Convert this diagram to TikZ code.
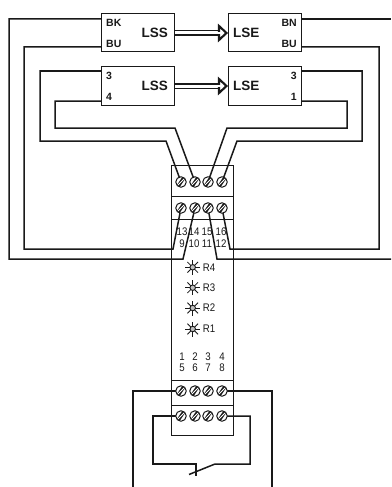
\documentclass[tikz,border=0pt]{standalone}
\usepackage{fontspec}
\setmainfont{Liberation Sans}
\newfontfamily\narrowfont[FakeStretch=0.88]{Liberation Sans}
\usetikzlibrary{calc}
\definecolor{ink}{gray}{0.1}
\definecolor{led}{gray}{0.75}
\begin{document}
\begin{tikzpicture}[x=1pt,y=-1pt,
  wire/.style={draw=ink,line width=1.5pt,line join=miter},
  thin wire/.style={draw=ink,line width=1.2pt},
  device/.style={draw=ink,line width=1pt,fill=white},
  housing/.style={draw=ink,line width=0.8pt},
  tag/.style={font=\bfseries\fontsize{10.5}{11}\selectfont,text=ink,inner sep=0pt},
  kind/.style={font=\bfseries\fontsize{13.5}{14}\selectfont,text=ink,inner sep=0pt},
  num/.style={font=\narrowfont\fontsize{11}{12}\selectfont,text=ink,inner sep=0pt},
  screwd/.style={circle,draw=ink,line width=1pt,fill=white,minimum size=10.5pt,inner sep=0pt,
    path picture={
      \draw[ink,line width=3.4pt]
        ($(path picture bounding box.south west)+(1pt,-1pt)$) -- ($(path picture bounding box.north east)+(-1pt,1pt)$);
      \draw[white,line width=0.9pt]
        ($(path picture bounding box.south west)+(0pt,0pt)$) -- ($(path picture bounding box.north east)+(0pt,0pt)$);}},
  ledmark/.style={circle,draw=ink,line width=0.9pt,fill=led,minimum size=5.5pt,inner sep=0pt},
]
\useasboundingbox (0,0) rectangle (391,487);
\fill[white] (0,0) rectangle (391,487);

% devices
\node[device,minimum width=73pt,minimum height=38pt,inner sep=0pt] (lssA) at (137.5,33) {};
\node[device,minimum width=73pt,minimum height=38pt,inner sep=0pt] (lssB) at (137.5,86) {};
\node[device,minimum width=73pt,minimum height=38pt,inner sep=0pt] (lseA) at (264.5,33) {};
\node[device,minimum width=73pt,minimum height=38pt,inner sep=0pt] (lseB) at (264.5,86) {};

% terminals
\foreach \n/\x in {1/181,2/195,3/208,4/222}{
  \coordinate (a\n) at (\x,182);
  \coordinate (b\n) at (\x,208);
  \coordinate (c\n) at (\x,391);
  \coordinate (d\n) at (\x,416);
}

% free ends
\coordinate (fl) at (133,487);
\coordinate (fr) at (272,487);
\coordinate (brk) at (391,19);
\coordinate (brk2) at (391,259);

% wires
\draw[wire] (101,19) -- (9,19) -- (9,259) -- (183,259) -- (b2);
\draw[wire] (101,47) -- (24,47) -- (24,249) -- (173,249) -- (b1);
\draw[wire] (101,71) -- (40,71) -- (40,141) -- (166,141) -- (a1);
\draw[wire] (101,101) -- (55,101) -- (55,128) -- (175,128) -- (a2);
\draw[wire] (301,101) -- (347,101) -- (347,128) -- (227,128) -- (a3);
\draw[wire] (301,71) -- (362,71) -- (362,141) -- (237,141) -- (a4);
\draw[thin wire] (301,19) -- (brk);
\draw[wire] (301,47) -- (379,47) -- (379,249) -- (230,249) -- (b4);
\draw[wire] (b3) -- (217,259) -- (brk2);
\draw[wire] (c1) -- (133,391) -- (fl);
\draw[wire] (c4) -- (272,391) -- (fr);
\draw[wire] (d1) -- (153,416) -- (153,464) -- (196,464) -- (196,476);
\draw[wire] (d4) -- (250,416) -- (250,464) -- (215,464) -- (189,474.5);

% module housing
\draw[housing] (171,165) rectangle (233,435);
\draw[housing] (171,196) -- (233,196);
\draw[housing] (171,219) -- (233,219);
\draw[housing] (171,380) -- (233,380);
\draw[housing] (171,405) -- (233,405);

% screws
\foreach \n in {1,2,3,4}{
  \node[screwd] (sa\n) at (a\n) {};
  \node[screwd] (sb\n) at (b\n) {};
  \node[screwd] (sc\n) at (c\n) {};
  \node[screwd] (sd\n) at (d\n) {};
}

% device labels
\node[tag,anchor=west] (t1) at (106,23) {BK};
\node[tag,anchor=west] (t2) at (106,44) {BU};
\node[tag,anchor=west] (t3) at (106,76) {3};
\node[tag,anchor=west] (t4) at (106,97) {4};
\node[tag,anchor=east] (t5) at (297,23) {BN};
\node[tag,anchor=east] (t6) at (297,44) {BU};
\node[tag,anchor=east] (t7) at (297,76) {3};
\node[tag,anchor=east] (t8) at (297,97) {1};
\node[kind,anchor=east] (k1) at (168,32.5) {LSS};
\node[kind,anchor=east] (k2) at (168,85.5) {LSS};
\node[kind,anchor=west] (k3) at (233,32.5) {LSE};
\node[kind,anchor=west] (k4) at (233,85.5) {LSE};

% optical links
\foreach \s/\e/\y in {lssA/lseA/33,lssB/lseB/86}{
  \filldraw[draw=ink,fill=white,line width=2.1pt,line join=miter]
    (219,\y-7) -- (226.5,\y) -- (219,\y+7) -- cycle;
  \fill[white] (216,\y-1.4) rectangle (222,\y+1.4);
  \draw[ink,line width=1.2pt] (\s.east |- 0,\y-2.1) -- (220,\y-2.1);
  \draw[ink,line width=1.2pt] (\s.east |- 0,\y+2.1) -- (220,\y+2.1);
}

% terminal numbers
\foreach \x/\a/\b in {182/13/9,194/14/10,207/15/11,221/16/12}{
  \node[num] at (\x,232) {\a};
  \node[num] at (\x,244) {\b};
}
\foreach \x/\a/\b in {182/1/5,195/2/6,208/3/7,222/4/8}{
  \node[num] at (\x,357) {\a};
  \node[num] at (\x,368) {\b};
}

% LEDs
\foreach \y/\l in {267.3/R4,287.7/R3,308/R2,329/R1}{
  \foreach \ang in {0,45,...,315}{
    \draw[ink,line width=0.8pt] (192.7,\y) ++(\ang:2pt) -- ++(\ang:5.5pt);
  }
  \node[ledmark] at (192.7,\y) {};
  \node[num,anchor=west] at (202.7,\y) {\l};
}
\end{tikzpicture}
\end{document}
